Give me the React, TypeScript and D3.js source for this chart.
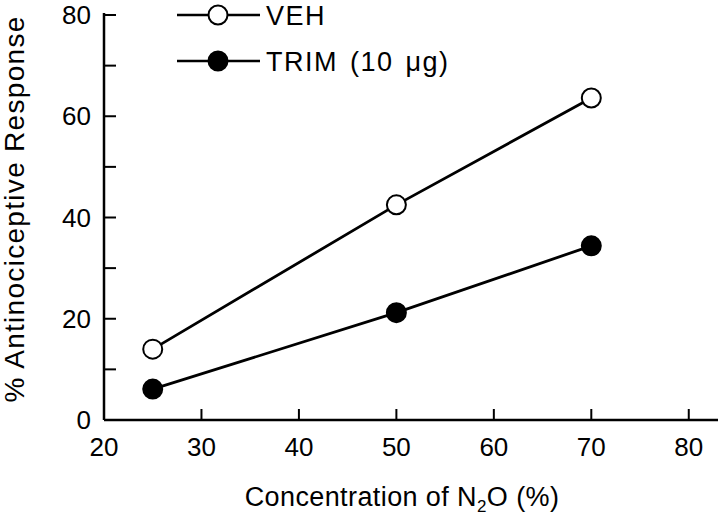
import { useEffect, useRef } from "react";
import * as d3 from "d3";

// N2O concentration (%) on the x axis
const concentrations = [25, 50, 70];
// % antinociceptive response per series
const vehValues = [14, 42.5, 63.6];
const trimValues = [6.1, 21.2, 34.4];

const xTicks = [20, 30, 40, 50, 60, 70, 80];
const yTicks = [0, 10, 20, 30, 40, 50, 60, 70, 80];
const yLabels = [0, 20, 40, 60, 80];

const seriesNames = ["VEH", "TRIM (10 \u03bcg)"];

const width = 718;
const height = 519;
const font = "'Liberation Sans', Arial, Helvetica, sans-serif";

export default function App() {
  const svgRef = useRef<SVGSVGElement>(null);

  useEffect(() => {
    const svg = d3.select(svgRef.current);
    svg.selectAll("*").remove();

    const x = d3.scaleLinear().domain([20, 83]).range([104, 718]);
    const y = d3.scaleLinear().domain([0, 80]).range([420, 15]);

    const g = svg.append("g").attr("font-family", font);

    // axes lines
    g.append("line")
      .attr("x1", x(20))
      .attr("x2", x(83))
      .attr("y1", y(0))
      .attr("y2", y(0))
      .attr("stroke", "#000")
      .attr("stroke-width", 2.5);
    g.append("line")
      .attr("x1", x(20))
      .attr("x2", x(20))
      .attr("y1", y(0))
      .attr("y2", y(80) - 2)
      .attr("stroke", "#000")
      .attr("stroke-width", 2.5);

    // x ticks point inward (up)
    g.selectAll("line.xtick")
      .data(xTicks.slice(1))
      .join("line")
      .attr("class", "xtick")
      .attr("x1", (d) => x(d))
      .attr("x2", (d) => x(d))
      .attr("y1", y(0))
      .attr("y2", y(0) - 11)
      .attr("stroke", "#000")
      .attr("stroke-width", 2);

    g.selectAll("text.xlab")
      .data(xTicks)
      .join("text")
      .attr("class", "xlab")
      .attr("x", (d) => x(d))
      .attr("y", 456)
      .attr("text-anchor", "middle")
      .attr("font-size", 26)
      .text((d) => d);

    // y ticks point inward (right)
    g.selectAll("line.ytick")
      .data(yTicks.slice(1))
      .join("line")
      .attr("class", "ytick")
      .attr("x1", x(20))
      .attr("x2", x(20) + 12)
      .attr("y1", (d) => y(d))
      .attr("y2", (d) => y(d))
      .attr("stroke", "#000")
      .attr("stroke-width", 2);

    g.selectAll("text.ylab")
      .data(yLabels)
      .join("text")
      .attr("class", "ylab")
      .attr("x", 91)
      .attr("y", (d) => y(d) + 9)
      .attr("text-anchor", "end")
      .attr("font-size", 26)
      .text((d) => d);

    // axis titles
    const xt = g
      .append("text")
      .attr("x", 402)
      .attr("y", 506)
      .attr("text-anchor", "middle")
      .attr("font-size", 27)
      .attr("letter-spacing", 0.4);
    xt.append("tspan").text("Concentration of N");
    xt.append("tspan").attr("font-size", 17).attr("dy", 6).text("2");
    xt.append("tspan").attr("dy", -6).text("O (%)");

    g.append("text")
      .attr("transform", "translate(24,209) rotate(-90)")
      .attr("text-anchor", "middle")
      .attr("font-size", 28)
      .attr("letter-spacing", 1.3)
      .text("% Antinociceptive Response");

    // series lines + markers
    const series = [
      { name: seriesNames[0], values: vehValues, fill: "#fff" },
      { name: seriesNames[1], values: trimValues, fill: "#000" },
    ];

    const line = d3
      .line<number>()
      .x((d, i) => x(concentrations[i]))
      .y((d) => y(d));

    series.forEach((s) => {
      g.append("path")
        .attr("d", line(s.values))
        .attr("fill", "none")
        .attr("stroke", "#000")
        .attr("stroke-width", 2.8);
      g.selectAll(null)
        .data(s.values)
        .join("circle")
        .attr("cx", (d, i) => x(concentrations[i]))
        .attr("cy", (d) => y(d))
        .attr("r", 9.5)
        .attr("fill", s.fill)
        .attr("stroke", "#000")
        .attr("stroke-width", 2);
    });

    // legend
    const legendY = [15, 61];
    series.forEach((s, i) => {
      const ly = legendY[i];
      g.append("line")
        .attr("x1", 177)
        .attr("x2", 260)
        .attr("y1", ly)
        .attr("y2", ly)
        .attr("stroke", "#000")
        .attr("stroke-width", 2.5);
      g.append("circle")
        .attr("cx", 218)
        .attr("cy", ly)
        .attr("r", 9.5)
        .attr("fill", s.fill)
        .attr("stroke", "#000")
        .attr("stroke-width", 2);
      g.append("text")
        .attr("x", 266)
        .attr("y", ly + 10)
        .attr("font-size", 27)
        .attr("letter-spacing", 1.5)
        .attr("word-spacing", 3)
        .text(s.name);
    });
  }, []);

  return (
    <svg
      ref={svgRef}
      width={width}
      height={height}
      style={{ position: "absolute", left: 0, top: 0, background: "#fff" }}
    ></svg>
  );
}
